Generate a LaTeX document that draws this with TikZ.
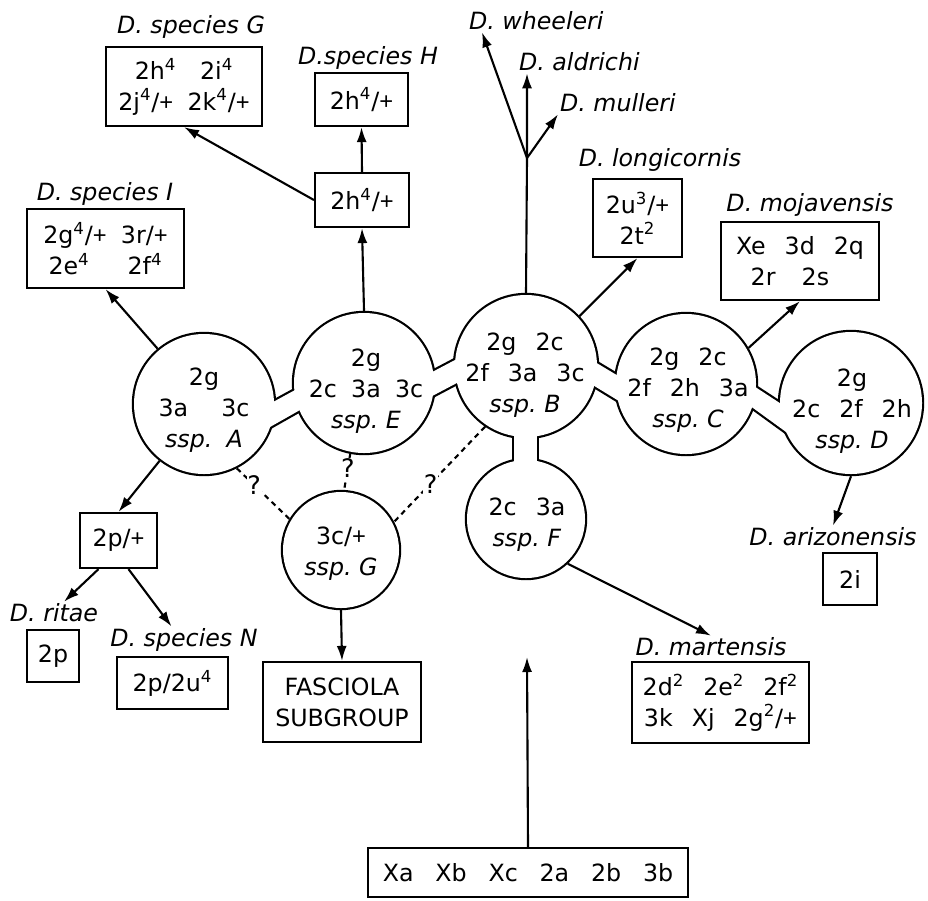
\documentclass[tikz,border=0pt]{standalone}
\usepackage{fontspec}
\setmainfont{DejaVu Sans}
\newfontfamily\narrowf{Liberation Sans}
\usetikzlibrary{arrows.meta, positioning, calc}

\newcommand{\wsp}{\hspace{0.8em}}
\newcommand{\bsp}{\hspace{0.6em}}
\newcommand{\sps}[1]{\textsuperscript{#1}}
\newcommand{\pls}{{\narrowf +}}

\begin{document}
\begin{tikzpicture}[x=0.02cm, y=-0.02cm,
    font=\fontsize{13.5}{17.5}\selectfont,
    sspc/.style={circle, minimum size=#1, inner sep=0pt, outer sep=1.25pt},
    blobline/.style={draw, line width=2.5pt, fill=white},
    blobfill/.style={fill=white},
    sspt/.style={align=center, inner sep=0pt},
    boxn/.style={draw, line width=1.25pt, align=center, inner sep=0pt},
    lbl/.style={font=\fontsize{13.5}{17}\selectfont\itshape, inner sep=1pt},
    link/.style={line width=1.2pt},
    arr/.style={link, -{Latex[length=3mm, width=2mm]}},
    doubt/.style={link, dash pattern=on 3pt off 2.5pt},
    qm/.style={fill=white, inner sep=0.5pt, font=\fontsize{14.5}{17}\selectfont}
  ]
  \useasboundingbox (0,0) rectangle (928,900);

  % subspecies
  \node[sspc=2.8cm]  (A) at (204,404) {};
  \node[sspc=2.8cm]  (E) at (364,383) {};
  \node[sspc=2.84cm] (B) at (526,366) {};
  \node[sspc=2.8cm]  (C) at (686,384) {};
  \node[sspc=2.84cm] (D) at (851,403) {};
  \node[sspc=2.36cm] (F) at (526,519) {};
  \node[sspc=2.32cm] (G) at (341,550) {};

  % outline pass, then white pass over the inner half of the strokes
  \foreach \st in {blobline, blobfill} {
    \foreach \p/\r in {A/70, E/70, B/71, C/70, D/71, F/59, G/58}
      \path[\st] (\p) circle[radius=\r];
    \path[\st] (240,420) -- (330,371) -- (330,393) -- (240,444) -- cycle;
    \path[\st] (400,389) -- (490,341.5) -- (490,365.5) -- (400,413) -- cycle;
    \path[\st] (560,341) -- (650,395) -- (650,420) -- (560,365) -- cycle;
    \path[\st] (720,364) -- (815,426) -- (815,453) -- (720,384) -- cycle;
    \path[\st] (514,400) rectangle (537,500);
  }

  \node[sspt] (At) at (204,410) {2g\\3a\hspace{1.4em}3c\\\textit{ssp.\hspace{0.6em}A}};
  \node[sspt] (Et) at (366,391) {2g\\2c\hspace{0.6em}3a\hspace{0.6em}3c\\\textit{ssp.\ E}};
  \node[sspt] (Bt) at (525,375) {2g\wsp 2c\\2f\wsp 3a\wsp 3c\\\textit{ssp.\ B}};
  \node[sspt] (Ct) at (688,390) {2g\wsp 2c\\2f\wsp 2h\wsp 3a\\\textit{ssp.\ C}};
  \node[sspt] (Dt) at (852,411) {2g\\2c\wsp 2f\wsp 2h\\\textit{ssp.\ D}};
  \node[sspt] (Ft) at (527,525) {2c\wsp 3a\\\textit{ssp.\ F}};
  \node[sspt] (Gt) at (341,554) {3c/\pls\\\textit{ssp.\ G}};

  % boxes
  \node[boxn, minimum width=3.12cm, minimum height=1.58cm] (boxG) at (184,86.5)
    {2h\sps{4}\hspace{1em}2i\sps{4}\\2j\sps{4}/\pls\bsp 2k\sps{4}/\pls};
  \node[boxn, minimum width=1.86cm, minimum height=1.06cm] (boxH) at (361.5,99.5) {2h\sps{4}/\pls};
  \node[boxn, minimum width=1.88cm, minimum height=1.08cm] (boxHpre) at (362,200) {2h\sps{4}/\pls};
  \node[boxn, minimum width=3.14cm, minimum height=1.58cm] (boxI) at (105.5,248.5)
    {2g\sps{4}/\pls\bsp 3r/\pls\\2e\sps{4}\hspace{1.6em}2f\sps{4}};
  \node[boxn, minimum width=1.78cm, minimum height=1.56cm] (boxLon) at (637.5,218) {2u\sps{3}/\pls\\2t\sps{2}};
  \node[boxn, minimum width=3.16cm, minimum height=1.56cm] (boxMoj) at (800,261)
    {Xe\wsp 3d\wsp 2q\\\hspace{-0.85em}2r\hspace{1.1em}2s};
  \node[boxn, minimum width=1.08cm, minimum height=1.04cm] (boxAri) at (850,579) {2i};
  \node[boxn, minimum width=1.54cm, minimum height=1.1cm] (boxP) at (118.5,540.5) {2p/\pls};
  \node[boxn, minimum width=1.04cm, minimum height=1.04cm] (boxRit) at (53,656) {2p};
  \node[boxn, minimum width=2.22cm, minimum height=1.04cm] (boxN) at (172.5,683) {2p/2u\sps{4}};
  \node[boxn, minimum width=3.16cm, minimum height=1.6cm] (boxFas) at (342,702) {FASCIOLA\\SUBGROUP};
  \node[boxn, minimum width=3.54cm, minimum height=1.62cm] (boxMar) at (720.5,702.5)
    {2d\sps{2}\wsp 2e\sps{2}\wsp 2f\sps{2}\\3k\wsp Xj\wsp 2g\sps{2}/\pls};
  \node[boxn, minimum width=6.4cm, minimum height=0.98cm] (boxBase) at (528,872.5)
    {Xa\hspace{0.92em}Xb\hspace{0.92em}Xc\hspace{0.92em}2a\hspace{0.92em}2b\hspace{0.92em}3b};

  % species names
  \node[lbl] (spG) at (191,27) {D. species G};
  \node[lbl] (spH) at (368,58) {D.species H};
  \node[lbl] (spI) at (105,194) {D. species I};
  \node[lbl, anchor=west] (whe) at (467,21) {D. wheeleri};
  \node[lbl, anchor=west] (ald) at (517,62) {D. aldrichi};
  \node[lbl, anchor=west] (mul) at (558,103) {D. mulleri};
  \node[lbl] (lon) at (660,160) {D. longicornis};
  \node[lbl] (moj) at (810,205) {D. mojavensis};
  \node[lbl] (ari) at (833,537) {D. arizonensis};
  \node[lbl] (rit) at (54,613) {D. ritae};
  \node[lbl] (spN) at (184,640) {D. species N};
  \node[lbl] (mar) at (711,647) {D. martensis};

  % descent
  \draw[arr] (A.130) -- (boxI.south);
  \draw[arr] (E.north) -- (boxHpre.south);
  \draw[arr] (boxHpre.north) -- (boxH.south);
  \draw[arr] (boxHpre.west) -- (boxG.south);
  \coordinate (fork) at (527,158);
  \draw[link] (B.north) -- (fork);
  \draw[arr] (fork) -- ([xshift=0.3cm]whe.south west);
  \draw[arr] (fork) -- ([xshift=0.2cm]ald.south west);
  \draw[arr] (fork) -- (mul.south west);
  \draw[arr] (B.43) -- (boxLon.south);
  \draw[arr] (C.30) -- (boxMoj.south);
  \draw[arr] (D.south) -- (ari.north);
  \draw[arr] (A.232) -- (boxP.north);
  \draw[arr] ([xshift=-0.4cm]boxP.south) -- ([xshift=0.2cm]rit.north);
  \draw[arr] ([xshift=0.2cm]boxP.south) -- ([xshift=-0.25cm]spN.north);
  \draw[arr] (G.south) -- (boxFas.north);
  \draw[arr] (F.-47) -- (mar.north);
  \coordinate (rootTip) at (527,657);
  \draw[arr] (boxBase.north) -- (rootTip);

  % uncertain links to ssp. G
  \draw[doubt] (A.-63) -- node[qm, pos=0.33] (q1) {?} (G.149);
  \draw[doubt] (E.-101) -- node[qm, pos=0.4] (q2) {?} (G.87);
  \draw[doubt] (B.-124) -- node[qm, pos=0.6] (q3) {?} (G.28);
\end{tikzpicture}
\end{document}
